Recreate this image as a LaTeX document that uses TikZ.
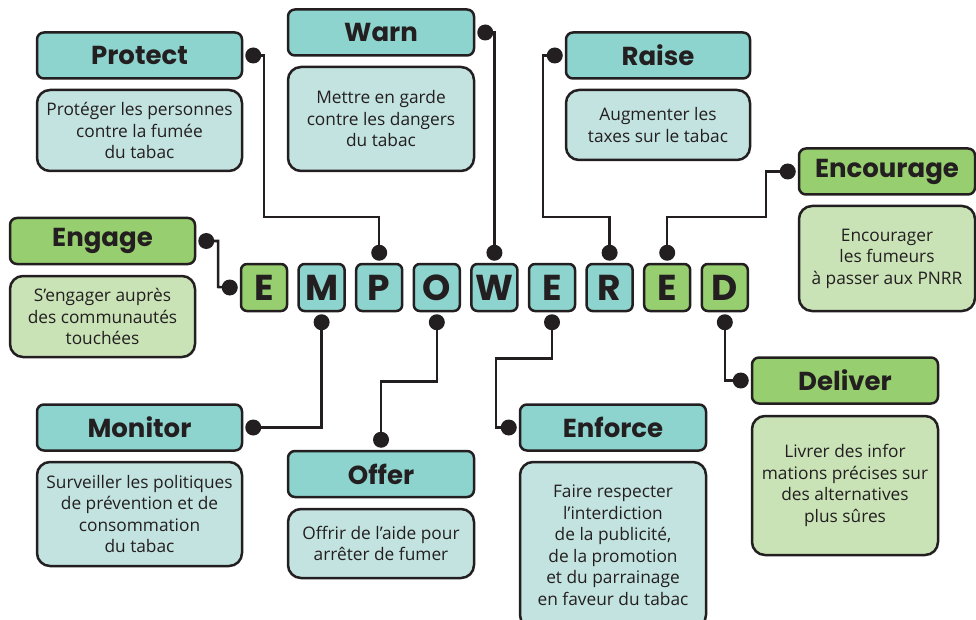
\documentclass[tikz,border=0pt]{standalone}
\usepackage{fontspec}
\newfontfamily\headfont{Poppins}
\newfontfamily\bodyfont{Open Sans}
\definecolor{ink}{HTML}{231F20}
\definecolor{tealhead}{HTML}{8DD3CE}
\definecolor{tealbody}{HTML}{C3E3E0}
\definecolor{greenhead}{HTML}{97CE6F}
\definecolor{greenbody}{HTML}{C9E3B7}
\tikzset{
  head/.style={draw=ink, line width=2.5pt, rounded corners=7pt, minimum height=46pt,
    inner sep=0pt, text=ink, font=\headfont\bfseries\fontsize{26}{30}\selectfont},
  body/.style={draw=ink, line width=2.5pt, rounded corners=13pt, inner sep=0pt,
    align=center, text=ink, font=\bodyfont\fontsize{17.3}{21.5}\selectfont},
  letterbox/.style={draw=ink, line width=2.5pt, rounded corners=6pt, minimum width=46pt,
    minimum height=47pt, inner sep=0pt, text=ink, font=\headfont\bfseries\fontsize{36}{36}\selectfont},
  dot/.style={circle, fill=ink, inner sep=0pt, minimum size=16pt},
  wire/.style={draw=ink, line width=2.5pt}
}
\begin{document}
\begin{tikzpicture}[x=1pt, y=-1pt]
    \useasboundingbox (0,0) rectangle (976,620);
    % Lettres
    \foreach \l/\c [count=\i] in {E/greenhead, M/tealhead, P/tealhead, O/tealhead,
        W/tealhead, E/tealhead, R/tealhead, E/greenhead, D/greenhead}
        \node[letterbox, fill=\c] (l\i) at (206.4+57.6*\i, 287.5) {\l};
    % Titres
    \node[head, fill=tealhead, minimum width=205pt] (protect) at (139.5,55.5) {Protect};
    \node[head, fill=tealhead, minimum width=186pt] (warn) at (381,32.5) {Warn};
    \node[head, fill=tealhead, minimum width=184pt] (raise) at (658,55.5) {Raise};
    \node[head, fill=greenhead, minimum width=176pt] (encourage) at (887,171.5) {Encourage};
    \node[head, fill=greenhead, minimum width=185pt] (engage) at (102.5,241) {Engage};
    \node[head, fill=tealhead, minimum width=205pt] (monitor) at (139.5,427.5) {Monitor};
    \node[head, fill=tealhead, minimum width=186pt] (offer) at (381,474) {Offer};
    \node[head, fill=tealhead, minimum width=186pt] (enforce) at (613,427.5) {Enforce};
    \node[head, fill=greenhead, minimum width=186pt] (deliver) at (845,380.5) {Deliver};
    % Textes
    \node[body, fill=tealbody, minimum width=205pt, minimum height=81pt] (protecttxt) at (139.5,130.5)
        {Protéger les personnes\\contre la fumée\\du tabac};
    \node[body, fill=tealbody, minimum width=186pt, minimum height=104pt] (warntxt) at (381,119)
        {Mettre en garde\\contre les dangers\\du tabac};
    \node[body, fill=tealbody, minimum width=184pt, minimum height=70pt] (raisetxt) at (658,125)
        {Augmenter les\\taxes sur le tabac};
    \node[body, fill=greenbody, minimum width=176pt, minimum height=105pt] (encouragetxt) at (887,258.5)
        {Encourager\\les fumeurs\\à passer aux PNRR};
    \node[body, fill=greenbody, minimum width=185pt, minimum height=81pt] (engagetxt) at (102.5,316.5)
        {S’engager auprès\\des communautés\\touchées};
    \node[body, fill=tealbody, minimum width=205pt, minimum height=104pt] (monitortxt) at (139.5,514)
        {Surveiller les politiques\\de prévention et de\\consommation\\du tabac};
    \node[body, fill=tealbody, minimum width=186pt, minimum height=69pt] (offertxt) at (381,543.5)
        {Offrir de l’aide pour\\arrêter de fumer};
    \node[body, fill=tealbody, minimum width=186pt, minimum height=166pt] (enforcetxt) at (613,545)
        {Faire respecter\\l’interdiction\\de la publicité,\\de la promotion\\et du parrainage\\en faveur du tabac};
    \node[body, fill=greenbody, minimum width=186pt, minimum height=139pt] (delivertxt) at (845,485.5)
        {Livrer des infor\\mations précises sur\\des alternatives\\plus sûres};
    % Points
    \node[dot] (protectdot) at ([xshift=10pt]protect.east) {};
    \node[dot] (warndot) at ([xshift=10pt]warn.east) {};
    \node[dot] (raisedot) at ([xshift=-10pt]raise.west) {};
    \node[dot] (encouragedot) at ([xshift=-10pt]encourage.west) {};
    \node[dot] (engagedot) at ([xshift=10pt]engage.east) {};
    \node[dot] (monitordot) at ([xshift=10pt]monitor.east) {};
    \node[dot] (offerdot) at ([yshift=10pt]offer.north) {};
    \node[dot] (enforcedot) at ([xshift=-10pt]enforce.west) {};
    \node[dot] (deliverdot) at ([xshift=-10pt]deliver.west) {};
    \node[dot] (edot) at ([xshift=-10pt]l1.west) {};
    \node[dot] (mdot) at ([yshift=-10pt]l2.south) {};
    \node[dot] (pdot) at ([yshift=10pt]l3.north) {};
    \node[dot] (odot) at ([yshift=-10pt]l4.south) {};
    \node[dot] (wdot) at ([yshift=10pt]l5.north) {};
    \node[dot] (e2dot) at ([yshift=-10pt]l6.south) {};
    \node[dot] (rdot) at ([yshift=10pt]l7.north) {};
    \node[dot] (e3dot) at ([yshift=10pt]l8.north) {};
    \node[dot] (ddot) at ([yshift=-10pt]l9.south) {};
    % Liaisons
    \draw[wire] (protectdot.center) -| (264,217) -| (pdot.center);
    \draw[wire] (warndot.center) -| (wdot.center);
    \draw[wire] (raisedot.center) -| (543,217) -| (rdot.center);
    \draw[wire] (encouragedot.center) -| (766,217) -| (e3dot.center);
    \draw[wire] (engagedot.center) -| (218,287) -- (edot.center);
    \draw[wire] (mdot.center) |- (monitordot.center);
    \draw[wire] (odot.center) -- ++(0,59) -| (offerdot.center);
    \draw[wire] (e2dot.center) -- ++(0,36) -| (496,427.5) -- (enforcedot.center);
    \draw[wire] (ddot.center) |- (deliverdot.center);
\end{tikzpicture}
\end{document}
